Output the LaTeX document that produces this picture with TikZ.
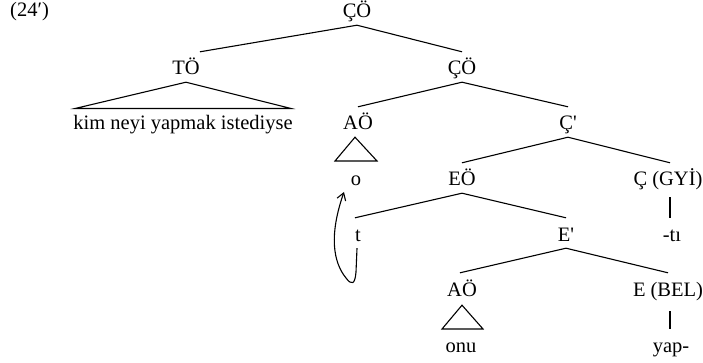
\documentclass[tikz,border=0pt]{standalone}
\usepackage{fontspec}
\setmainfont{Liberation Serif}[Ligatures=TeXOff]
\usetikzlibrary{arrows.meta}
\begin{document}
\begin{tikzpicture}[x=1pt,y=-1pt,
  every node/.style={font=\fontsize{20.5}{24}\selectfont},
  lab/.style={anchor=base,inner xsep=1pt,inner ysep=2pt,text height=21pt,text depth=5pt},
  branch/.style={line width=1.1pt},
  roof/.style={line width=1.1pt,line join=miter},
  move/.style={line width=1.1pt,-{Straight Barb[length=7pt,width=9pt]}}]
\useasboundingbox (0,0) rectangle (703,363);

% example number
\node[anchor=base west,inner sep=0] at (10,17) {(24′)};

% tree labels
\node[lab] (r)   at (357,18)  {ÇÖ};
\node[lab] (to)  at (186,75)  {TÖ};
\node[lab] (co)  at (462,75)  {ÇÖ};
\node[lab] (kim) at (183,130) {kim neyi yapmak istediyse};
\node[lab] (aoa) at (358,130) {AÖ};
\node[lab] (cb)  at (568,130) {Ç'};
\node[lab] (o)   at (356,186) {o};
\node[lab] (eo)  at (462,186) {EÖ};
\node[lab] (gyi) at (668,186) {Ç (GYİ)};
\node[lab] (t)   at (358,241) {t};
\node[lab] (eb)  at (566,241) {E'};
\node[lab] (ti)  at (672,241) {-tı};
\node[lab] (aob) at (462,296) {AÖ};
\node[lab] (bel) at (668,296) {E (BEL)};
\node[lab] (onu) at (461,352) {onu};
\node[lab] (yap) at (671,352) {yap-};

% branches
\draw[branch] (r.south) -- ([xshift=14pt]to.north);
\draw[branch] (r.south) -- (co.north);
\draw[branch] (co.south) -- (aoa.north);
\draw[branch] (co.south) -- (cb.north);
\draw[branch] (cb.south) -- (eo.north);
\draw[branch] (cb.south) -- ([xshift=2pt]gyi.north);
\draw[branch] (eo.south) -- ([xshift=-3pt]t.north);
\draw[branch] (eo.south) -- (eb.north);
\draw[branch] (eb.south) -- ([xshift=-2pt]aob.north);
\draw[branch] (eb.south) -- (bel.north);
\draw[branch] ([xshift=2pt,yshift=-4pt]gyi.south) -- ([xshift=-2pt]ti.north);
\draw[branch] ([xshift=2pt,yshift=-8pt]bel.south) -- ([xshift=-1pt]yap.north);

% roofs over unanalysed phrases
\coordinate (kimL) at (75,108.5);
\coordinate (kimR) at (291,108.5);
\draw[roof] (to.south) -- (kimL) -- (kimR) -- cycle;
\coordinate (oL) at (335,161);
\coordinate (oR) at (377,161);
\draw[roof] ([xshift=-3pt]aoa.south) -- (oL) -- (oR) -- cycle;
\coordinate (onuL) at (442,329);
\coordinate (onuR) at (483,329);
\draw[roof] ([yshift=-2pt]aob.south) -- (onuL) -- (onuR) -- cycle;

% movement of the trace
\coordinate (otip) at (344,192);
\draw[move] ([xshift=-1pt]t.south) -- (356,272)
  .. controls (355,284) and (352,286) .. (346,278)
  .. controls (333,262) and (329,235) .. (otip);
\end{tikzpicture}
\end{document}
